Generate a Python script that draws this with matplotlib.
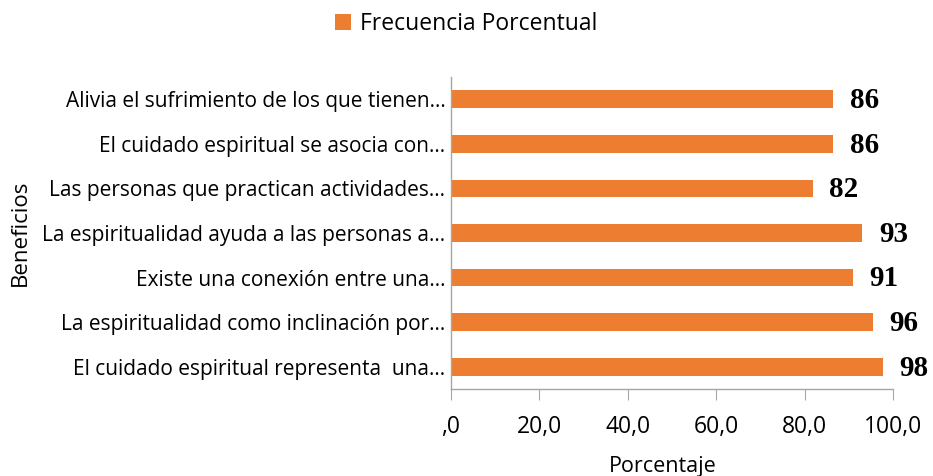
import matplotlib
matplotlib.use("Agg")
import matplotlib.pyplot as plt
from matplotlib.ticker import FuncFormatter

# Data (top to bottom as shown)
beneficios = [
    "Alivia el sufrimiento de los que tienen…",
    "El cuidado espiritual se asocia con…",
    "Las personas que practican actividades…",
    "La espiritualidad ayuda a las personas a…",
    "Existe una conexión entre una…",
    "La espiritualidad como inclinación por…",
    "El cuidado espiritual representa  una…",
]
porcentaje = [86.4, 86.4, 81.8, 93.1, 90.9, 95.4, 97.7]
etiquetas = ["86", "86", "82", "93", "91", "96", "98"]

bar_color = "#ED7D31"
axis_gray = "#A6A6A6"
sans = ["Open Sans", "DejaVu Sans"]

fig = plt.figure(figsize=(9.33, 4.76), dpi=100)
ax = fig.add_axes([0.4834, 0.183, 0.4737, 0.655])

ypos = list(range(len(beneficios)))[::-1]
ax.barh(ypos, porcentaje, height=0.40, color=bar_color, label="Frecuencia Porcentual")

# value labels next to each bar
for y, v, t in zip(ypos, porcentaje, etiquetas):
    ax.annotate(t, xy=(v, y), xytext=(12, -1), textcoords="offset points",
                ha="left", va="center", fontsize=21, fontweight="bold",
                family="Liberation Serif", color="black")

ax.set_xlim(0, 100)
ax.set_ylim(-0.5, len(beneficios) - 0.5)
ax.set_xticks([0, 20, 40, 60, 80, 100])
ax.xaxis.set_major_formatter(FuncFormatter(
    lambda x, p: ",0" if x == 0 else f"{x:.1f}".replace(".", ",")))
ax.set_yticks(ypos)
ax.set_yticklabels(beneficios, family=sans, fontsize=15)
for lab in ax.get_xticklabels():
    lab.set_family(sans)
    lab.set_fontsize(16.5)

ax.tick_params(axis="y", length=0, pad=4)
ax.tick_params(axis="x", length=8, color=axis_gray, pad=11, labelcolor="black")

for s in ["top", "right"]:
    ax.spines[s].set_visible(False)
for s in ["left", "bottom"]:
    ax.spines[s].set_color(axis_gray)
    ax.spines[s].set_linewidth(1)

ax.set_xlabel("Porcentaje", family=sans, fontsize=15.5)
ax.xaxis.set_label_coords(0.48, -0.215)
ax.set_ylabel("Beneficios", family=sans, fontsize=16)
ax.yaxis.set_label_coords(-0.95, 0.5)

fig.legend(loc="center", bbox_to_anchor=(0.5, 0.95), frameon=False,
           prop={"family": sans, "size": 16.5}, handlelength=0.7, handleheight=0.7,
           handletextpad=0.4)

fig.savefig("out.png", dpi=100)
